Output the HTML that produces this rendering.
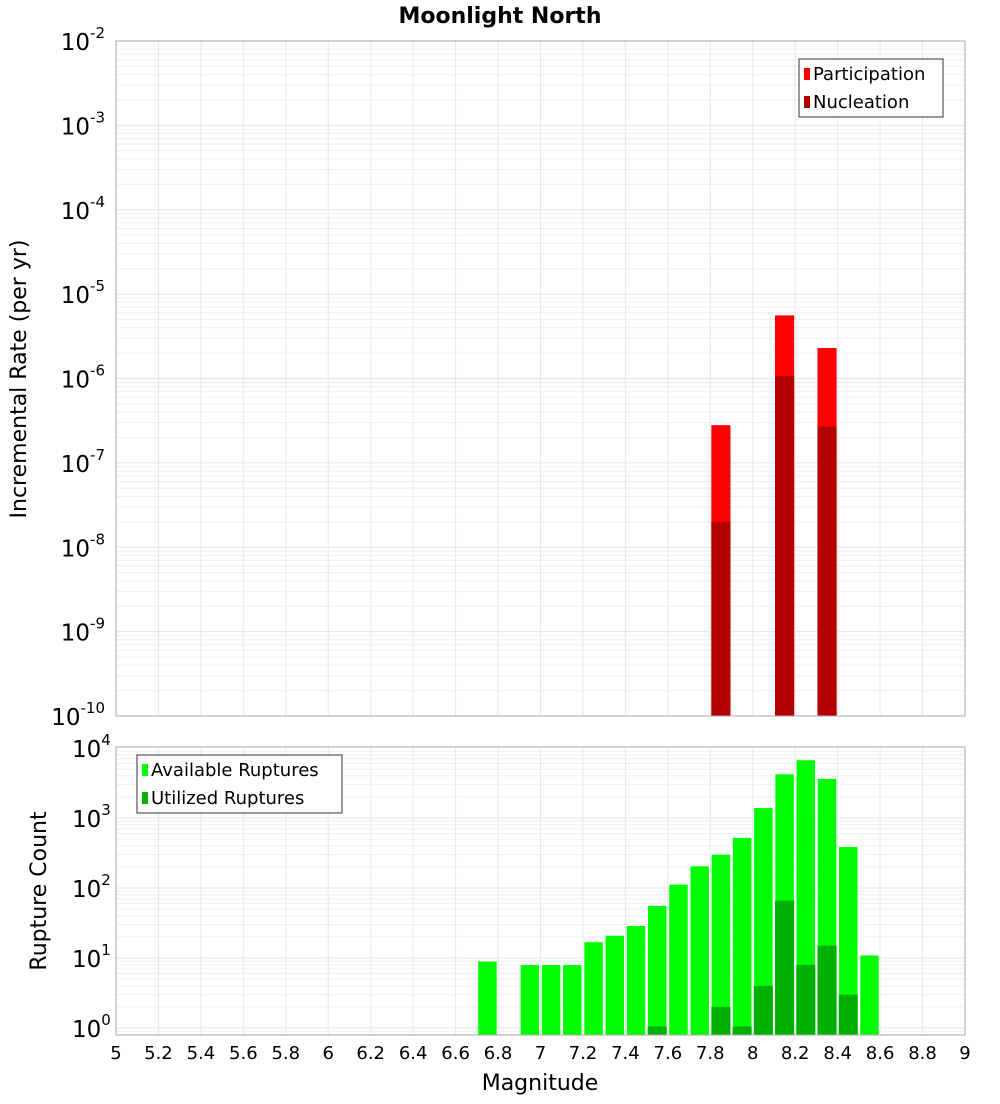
<!DOCTYPE html>
<html><head><meta charset="utf-8"><style>
body{margin:0;background:#fff;font-family:"DejaVu Sans","Liberation Sans",sans-serif}
svg text{font-family:"DejaVu Sans","Liberation Sans",sans-serif}
</style></head><body>
<svg id="c" width="1000" height="1100" xmlns="http://www.w3.org/2000/svg"></svg>
<script>
const topCats=[7.85,8.15,8.35];
const participation=[2.8e-7,5.6e-6,2.3e-6];
const nucleation=[2.0e-8,1.07e-6,2.7e-7];
const botCats=[6.75,6.95,7.05,7.15,7.25,7.35,7.45,7.55,7.65,7.75,7.85,7.95,8.05,8.15,8.25,8.35,8.45,8.55];
const available=[9,8,8,8,17,21,29,56,113,206,302,525,1400,4250,6750,3650,390,11];
const utilCats=[7.55,7.85,7.95,8.05,8.15,8.25,8.35,8.45];
const utilized=[1.05,2,1.05,4,66,8,15,3];
const xTicks=[5,5.2,5.4,5.6,5.8,6,6.2,6.4,6.6,6.8,7,7.2,7.4,7.6,7.8,8,8.2,8.4,8.6,8.8,9];
const topExps=[-2,-3,-4,-5,-6,-7,-8,-9,-10];
const botExps=[4,3,2,1,0];

const NS="http://www.w3.org/2000/svg";
const svg=document.getElementById('c');
function el(t,a,p){const e=document.createElementNS(NS,t);for(const k in a)e.setAttribute(k,a[k]);(p||svg).appendChild(e);return e;}
const X0=116,X1=965;
const x=v=>X0+(v-5)/4*(X1-X0);
const T0=41,T1=716;
const yT=v=>T0+(-2-Math.log10(v))/8*(T1-T0);
const B0=747,B1=1035;
const yB=v=>1028-Math.log10(v)*70;
const BW=0.09;

function grid(y0,y1,yf,lo,hi,name){
  const g=el('g',{});
  
  
  for(let e=lo;e<hi;e++)for(let m=1;m<10;m++){const yy=yf(m*Math.pow(10,e));if(yy>=y0&&yy<=y1)el('line',{x1:X0,x2:X1,y1:yy,y2:yy,stroke:m==1?'#e4e4e4':'#efefef','stroke-width':1},g);}
  xTicks.forEach(t=>el('line',{x1:x(t),x2:x(t),y1:y0,y2:y1,stroke:'#e8e8e8','stroke-width':1},g));
}
grid(T0,T1,yT,-10,-2,'top-grid');
grid(B0,B1,yB,-1,4,'bottom-grid');

// top bars
topCats.forEach((c,i)=>{
  let r=el('rect',{x:x(c-BW/2),y:yT(participation[i]),width:x(c+BW/2)-x(c-BW/2),height:T1-yT(participation[i]),fill:'#ff0000'});
  
  
  r=el('rect',{x:x(c-BW/2),y:yT(nucleation[i]),width:x(c+BW/2)-x(c-BW/2),height:T1-yT(nucleation[i]),fill:'#b30000'});
  
  
});
// bottom bars
botCats.forEach((c,i)=>{
  const r=el('rect',{x:x(c-BW/2),y:yB(available[i]),width:x(c+BW/2)-x(c-BW/2),height:B1-yB(available[i]),fill:'#00ff00',stroke:'#fff','stroke-width':0.6});
  
  
});
utilCats.forEach((c,i)=>{
  const r=el('rect',{x:x(c-BW/2),y:yB(utilized[i]),width:x(c+BW/2)-x(c-BW/2),height:B1-yB(utilized[i]),fill:'#00b000'});
  
  
});
// frames
el('rect',{x:X0,y:T0,width:X1-X0,height:T1-T0,fill:'none',stroke:'#aaa'});
el('rect',{x:X0,y:B0,width:X1-X0,height:B1-B0,fill:'none',stroke:'#aaa'});
// y tick labels
topExps.forEach(e=>{
  const t=el('text',{x:105,y:yT(Math.pow(10,e))+9,'text-anchor':'end','font-size':23});
  
  
  t.innerHTML='10<tspan dy="-12" font-size="15">'+e+'</tspan>';
});
botExps.forEach(e=>{
  const t=el('text',{x:72,y:yB(Math.pow(10,e))+9,'font-size':23});
  
  
  t.innerHTML='10<tspan dy="-12" font-size="15">'+e+'</tspan>';
});
xTicks.forEach(v=>{
  const t=el('text',{x:x(v),y:1059,'text-anchor':'middle','font-size':18});
  
  
  t.textContent=String(v);
});
function txt(s,a,name){const t=el('text',a);t.textContent=s;return t;}
txt('Moonlight North',{x:500,y:23,'text-anchor':'middle','font-size':22,'font-weight':'bold'},'chart-title');
txt('Magnitude',{x:540,y:1090,'text-anchor':'middle','font-size':22},'x-axis-title');
txt('Incremental Rate (per yr)',{x:0,y:0,'text-anchor':'middle','font-size':22,transform:'translate(26,379) rotate(-90)'},'top-y-axis-title');
txt('Rupture Count',{x:0,y:0,'text-anchor':'middle','font-size':22,transform:'translate(46,891) rotate(-90)'},'bottom-y-axis-title');
// legends
function legend(x0,y0,w,items,name){
  const g=el('g',{});
  
  
  el('rect',{x:x0,y:y0,width:w,height:58,fill:'#fff',stroke:'#333'},g);
  items.forEach((it,i)=>{
    el('rect',{x:x0+5,y:y0+9+i*28,width:6,height:12,fill:it[1]},g);
    const t=el('text',{x:x0+14,y:y0+21+i*28,'font-size':18},g);t.textContent=it[0];
  });
}
legend(799,59,144,[['Participation','#ff0000'],['Nucleation','#b30000']],'top-legend');
legend(137,755,205,[['Available Ruptures','#00ff00'],['Utilized Ruptures','#00b000']],'bottom-legend');
</script>
</body></html>
